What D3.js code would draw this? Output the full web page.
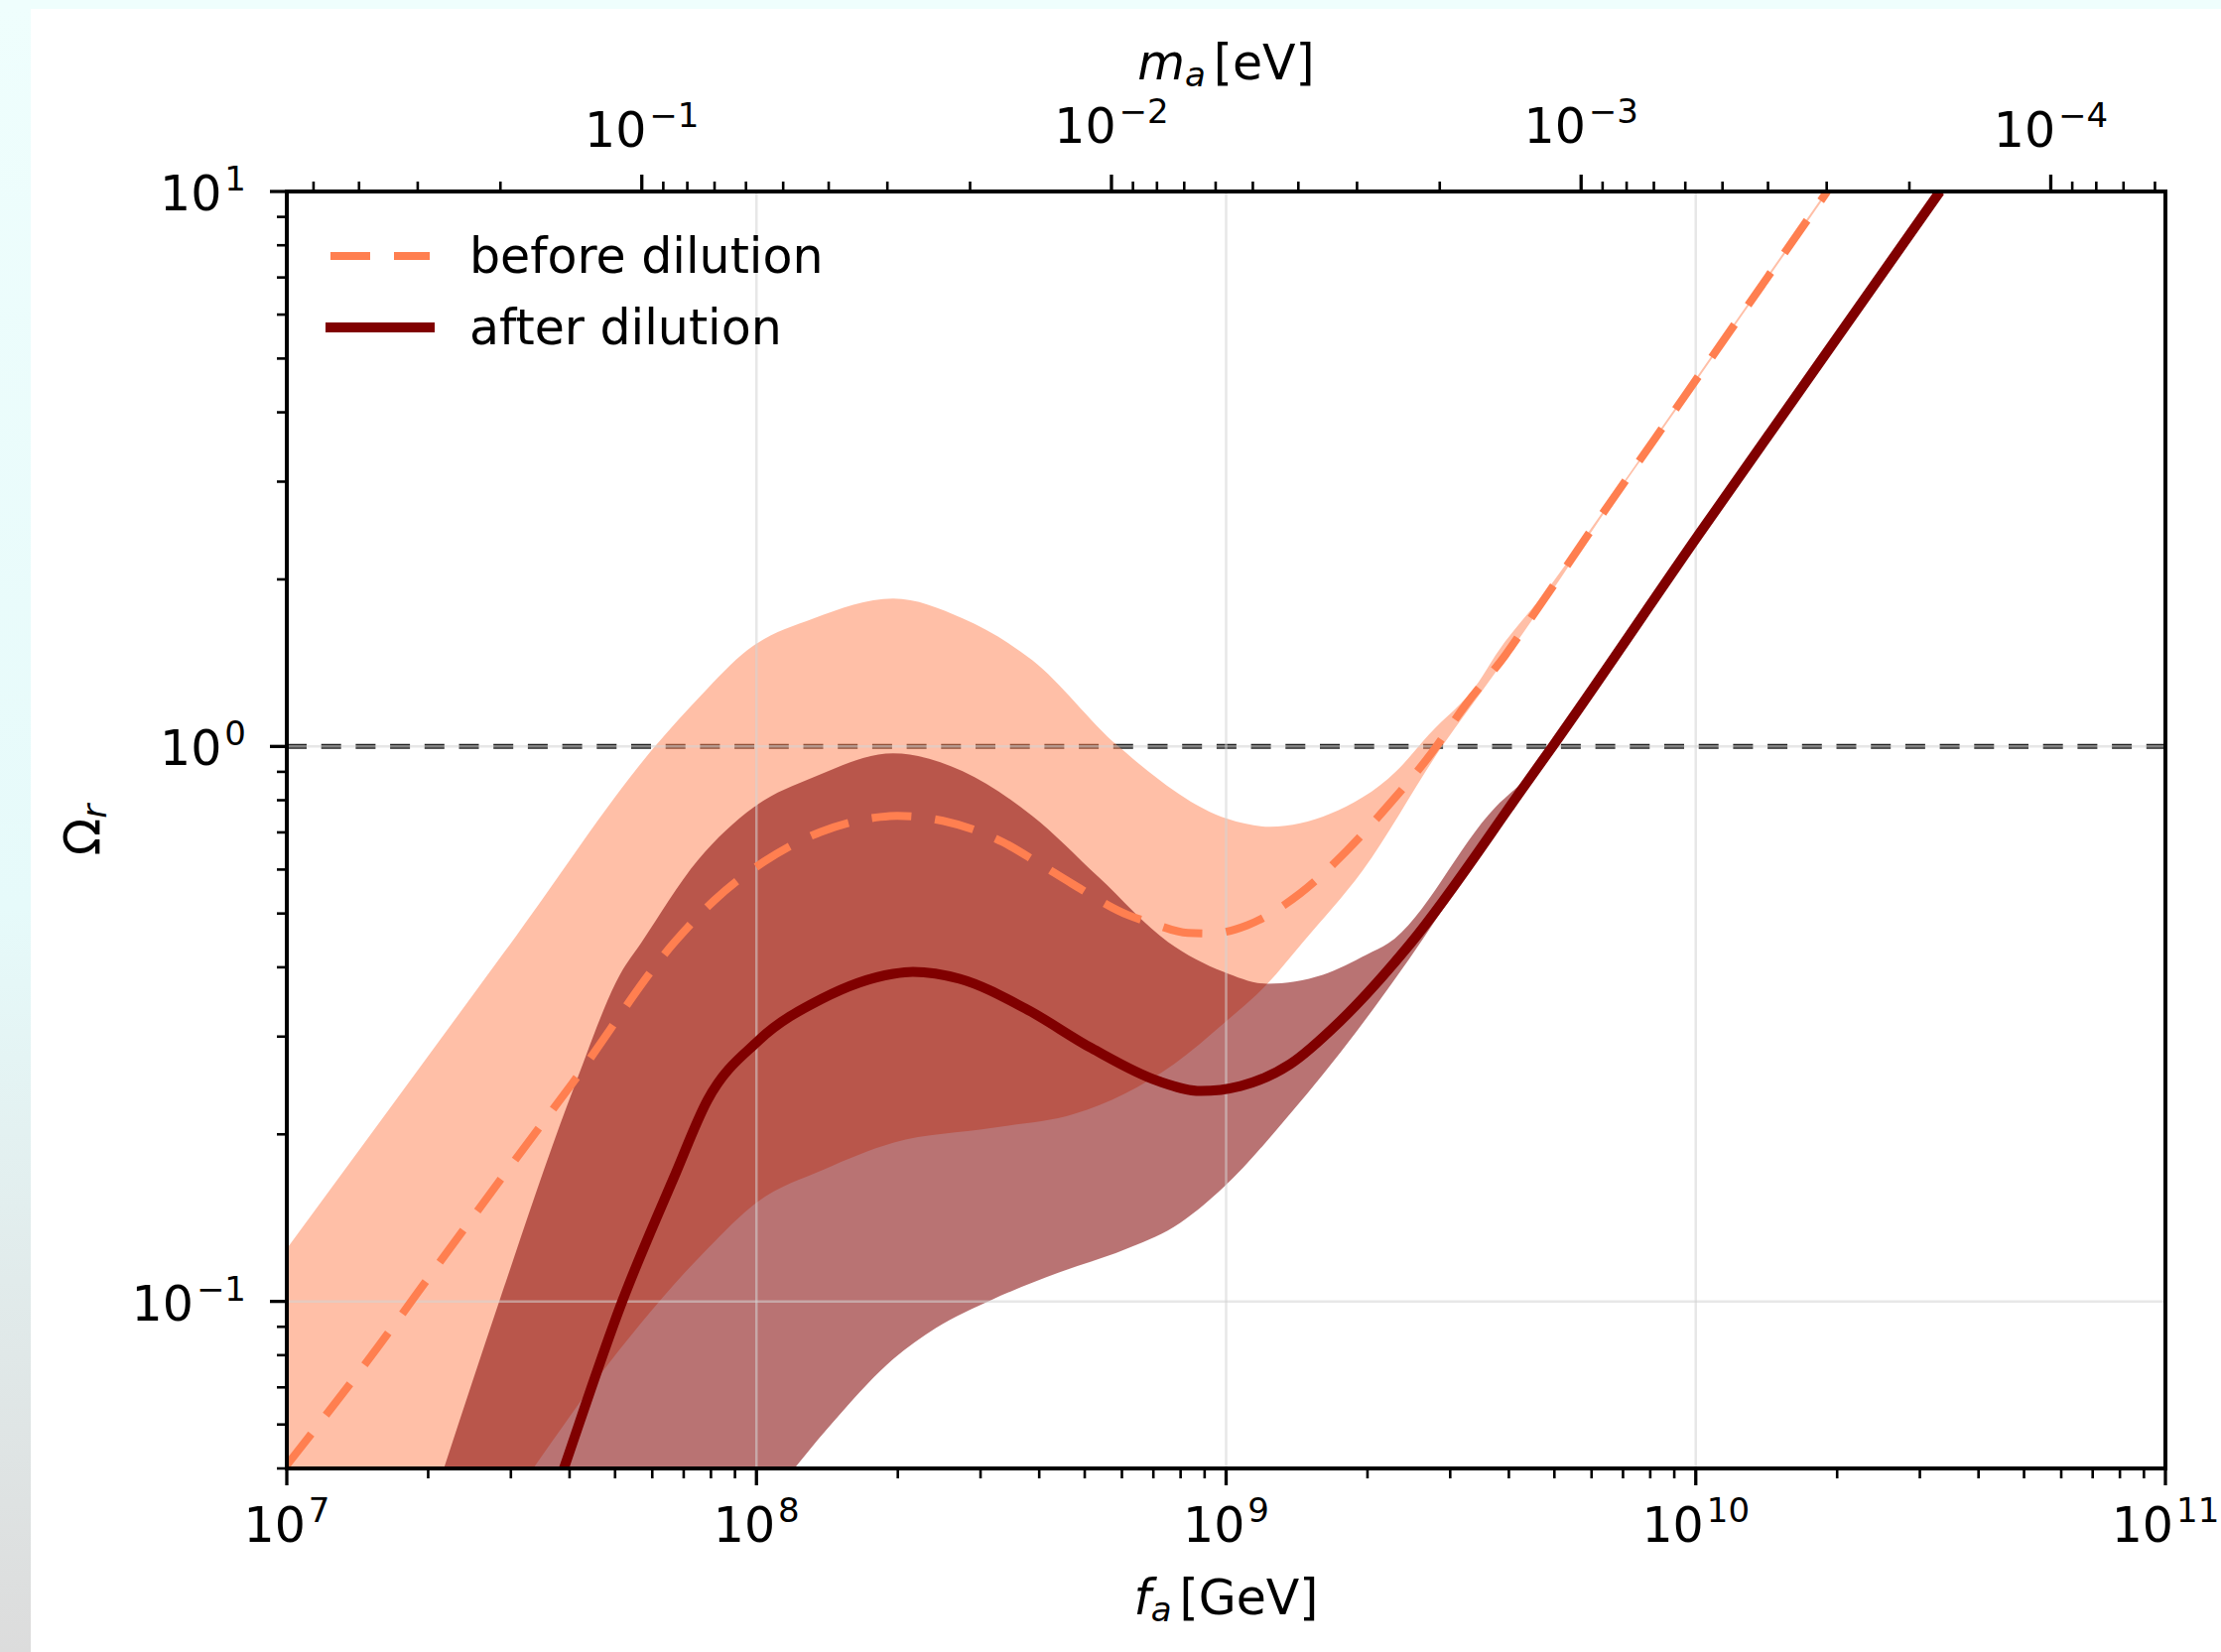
<!DOCTYPE html>
<html><head><meta charset="utf-8">
<script src="https://cdn.jsdelivr.net/npm/d3@7"></script>
<style>
html,body{margin:0;padding:0;background:#fff;}
svg{display:block;}
text{font-family:"DejaVu Sans",sans-serif;fill:#000;}
</style></head><body>
<svg id="chart" width="2238" height="1665"></svg>
<script>
// ---------------- data ----------------
// central curve before dilution (dashed)
const fBefore = [1e7, 1.557e7, 2.105e7, 3.032e7, 4.062e7, 6.703e7, 8.141e7, 1.038e8, 1.370e8, 1.835e8, 1.995e8, 2.493e8, 3.339e8, 3.998e8, 4.692e8, 6.193e8, 6.927e8, 8.291e8, 9.333e8, 1.110e9, 1.437e9, 1.806e9, 2.226e9, 2.692e9, 3.238e9, 3.934e9, 4.400e9, 6.278e9, 9.445e9, 1.905e10];
const omegaBefore = [0.0507, 0.0824, 0.1169, 0.1778, 0.2477, 0.4446, 0.5284, 0.6200, 0.7015, 0.7464, 0.7499, 0.7345, 0.6730, 0.6152, 0.5662, 0.4966, 0.4808, 0.4613, 0.4603, 0.4764, 0.5433, 0.6486, 0.7870, 0.9550, 1.189, 1.462, 1.675, 2.600, 4.266, 10];
// uncertainty band before dilution
const fBeforeUp = [1e7, 1.557e7, 3.077e7, 6.080e7, 7.642e7, 9.561e7, 1.324e8, 1.955e8, 2.748e8, 3.864e8, 5.898e8, 1.007e9, 1.242e9, 1.663e9, 2.303e9, 2.704e9, 3.450e9, 3.748e9, 4.850e9, 6.278e9, 9.445e9, 1.905e10];
const omegaBeforeUp = [0.1245, 0.2073, 0.4553, 1.0, 1.239, 1.491, 1.701, 1.847, 1.701, 1.431, 1.0, 0.7404, 0.7164, 0.7557, 0.9023, 1.051, 1.307, 1.461, 1.925, 2.618, 4.295, 10.07];
const fBeforeLo = [1e7, 3.342e7, 4.837e7, 7.870e7, 1.004e8, 1.391e8, 1.955e8, 3.180e8, 4.761e8, 6.073e8, 7.746e8, 9.879e8, 1.224e9, 1.458e9, 1.952e9, 2.882e9, 3.748e9, 4.850e9, 6.278e9, 9.445e9, 1.905e10];
const omegaBeforeLo = [0.0112, 0.0499, 0.0771, 0.1244, 0.1510, 0.1729, 0.1932, 0.2055, 0.2178, 0.2366, 0.2677, 0.3168, 0.3736, 0.4443, 0.5975, 1.0, 1.361, 1.862, 2.582, 4.236, 9.93];
// central curve after dilution (solid)
const fAfter = [3.548e7, 3.887e7, 5.178e7, 6.703e7, 7.870e7, 1.007e8, 1.377e8, 1.955e8, 2.154e8, 2.707e8, 3.734e8, 5.172e8, 7.167e8, 8.833e8, 1.073e9, 1.369e9, 1.746e9, 2.454e9, 4.358e9, 4.955e9, 1.021e10, 1.637e10, 3.311e10];
const omegaAfter = [0.0398, 0.0499, 0.1, 0.1688, 0.2307, 0.2944, 0.3508, 0.3893, 0.3926, 0.3814, 0.3372, 0.2859, 0.2495, 0.2394, 0.2444, 0.2677, 0.3194, 0.4386, 0.8587, 1.0, 2.427, 4.285, 10];
// uncertainty band after dilution
const fAfterUp = [1.995e7, 2.158e7, 2.833e7, 4.121e7, 5.129e7, 5.697e7, 7.494e7, 9.890e7, 1.324e8, 1.955e8, 2.748e8, 3.864e8, 5.346e8, 7.523e8, 9.879e8, 1.224e9, 1.607e9, 1.995e9, 2.213e9, 3.741e9, 4.358e9, 5.012e9, 1.021e10, 1.637e10, 3.311e10];
const omegaAfterUp = [0.0407, 0.0499, 0.1, 0.2475, 0.389, 0.4443, 0.6228, 0.7779, 0.8800, 0.9716, 0.9023, 0.7496, 0.582, 0.4443, 0.3926, 0.3736, 0.3877, 0.4217, 0.4416, 0.7767, 0.879, 1.028, 2.443, 4.315, 10.07];
const fAfterLo = [1.995e7, 8.913e7, 1.202e8, 1.510e8, 1.955e8, 2.409e8, 3.180e8, 4.406e8, 6.073e8, 7.746e8, 9.879e8, 1.369e9, 1.896e9, 2.454e9, 3.162e9, 4.169e9, 5.012e9, 1.021e10, 1.637e10, 3.311e10];
const omegaAfterLo = [0.0158, 0.0355, 0.0499, 0.0628, 0.0787, 0.0895, 0.1008, 0.1127, 0.1239, 0.1362, 0.1606, 0.2178, 0.3066, 0.4142, 0.5689, 0.8035, 1.0, 2.410, 4.256, 9.93];
// reference level
const omegaRef = [1];
// axes
const xDomain = [1e7, 1e11];
const yDomain = [0.05, 10];
const xMajorTicks = [1e7, 1e8, 1e9, 1e10, 1e11];
const xTickExp = ["7", "8", "9", "10", "11"];
const yMajorTicks = [0.1, 1, 10];
const yTickExp = ["\u22121", "0", "1"];
const topMajorTicks = [1e-1, 1e-2, 1e-3, 1e-4];
const topTickExp = ["\u22121", "\u22122", "\u22123", "\u22124"];
const maTimesFa = 5.7e6; // m_a [eV] * f_a [GeV]
const legendLabels = ["before dilution", "after dilution"];

// ---------------- layout ----------------
const W = 2238, H = 1665;
const L = 289, R = 2182, T = 193, B = 1480;
const svg = d3.select("#chart");
const defs = svg.append("defs");

svg.append("rect").attr("width", W).attr("height", H).attr("fill", "#ffffff");
const grad = defs.append("linearGradient").attr("id", "lg").attr("x1", 0).attr("y1", 0).attr("x2", 0).attr("y2", 1);
grad.append("stop").attr("offset", "0%").attr("stop-color", "#effefd");
grad.append("stop").attr("offset", "55%").attr("stop-color", "#e6fafa");
grad.append("stop").attr("offset", "100%").attr("stop-color", "#dcdcdc");
svg.append("rect").attr("x", 0).attr("y", 0).attr("width", 31).attr("height", H).attr("fill", "url(#lg)");
svg.append("rect").attr("x", 0).attr("y", 0).attr("width", W).attr("height", 9).attr("fill", "#effefd");

const x = d3.scaleLog().domain(xDomain).range([L, R]);
const y = d3.scaleLog().domain(yDomain).range([B, T]);
const m = d3.scaleLog().domain([maTimesFa / xDomain[0], maTimesFa / xDomain[1]]).range([L, R]);

defs.append("clipPath").attr("id", "plotclip").append("rect")
  .attr("x", L).attr("y", T).attr("width", R - L).attr("height", B - T);
const plot = svg.append("g").attr("clip-path", "url(#plotclip)");

const zip = (fs, os) => fs.map((f, i) => [f, os[i]]);
const line = d3.line().x(d => x(d[0])).y(d => y(d[1])).curve(d3.curveMonotoneX);
function bandPath(up, lo) {
  const a = line(up);
  const b = line(lo.slice().reverse());
  return a + "L" + b.slice(1) + "Z";
}

// reference line at Omega = 1 (below the fills)
plot.selectAll(".ref").data(omegaRef).enter().append("line")
  .attr("x1", L).attr("x2", R).attr("y1", d => y(d)).attr("y2", d => y(d))
  .attr("stroke", "#222").attr("stroke-width", 5).attr("stroke-dasharray", "20,14.7");

// bands
plot.append("path").attr("d", bandPath(zip(fBeforeUp, omegaBeforeUp), zip(fBeforeLo, omegaBeforeLo)))
  .attr("fill", "#ff7f50").attr("fill-opacity", 0.5);
plot.append("path").attr("d", bandPath(zip(fAfterUp, omegaAfterUp), zip(fAfterLo, omegaAfterLo)))
  .attr("fill", "#800000").attr("fill-opacity", 0.55);

// grid
const gridG = plot.append("g").attr("stroke", "#d3d3d3").attr("stroke-opacity", 0.55).attr("stroke-width", 2.5);
gridG.selectAll(".gx").data(xMajorTicks).enter().append("line")
  .attr("x1", d => x(d)).attr("x2", d => x(d)).attr("y1", T).attr("y2", B);
gridG.selectAll(".gy").data(yMajorTicks).enter().append("line")
  .attr("x1", L).attr("x2", R).attr("y1", d => y(d)).attr("y2", d => y(d));

// curves
plot.append("path").attr("d", line(zip(fBefore, omegaBefore)))
  .attr("fill", "none").attr("stroke", "#ff7f50").attr("stroke-width", 8).attr("stroke-dasharray", "40,24");
plot.append("path").attr("d", line(zip(fAfter, omegaAfter)))
  .attr("fill", "none").attr("stroke", "#800000").attr("stroke-width", 10);

// spines
svg.append("rect").attr("x", L).attr("y", T).attr("width", R - L).attr("height", B - T)
  .attr("fill", "none").attr("stroke", "#000").attr("stroke-width", 4);

// ticks
const isPow10 = v => Math.abs(Math.log10(v) - Math.round(Math.log10(v))) < 1e-6;
const ticksG = svg.append("g").attr("stroke", "#000");
ticksG.selectAll(".xM").data(xMajorTicks).enter().append("line")
  .attr("x1", d => x(d)).attr("x2", d => x(d)).attr("y1", B).attr("y2", B + 17).attr("stroke-width", 3.3);
ticksG.selectAll(".xm").data(x.ticks().filter(v => !isPow10(v))).enter().append("line")
  .attr("x1", d => x(d)).attr("x2", d => x(d)).attr("y1", B).attr("y2", B + 10).attr("stroke-width", 2.6);
ticksG.selectAll(".yM").data(yMajorTicks).enter().append("line")
  .attr("x1", L - 17).attr("x2", L).attr("y1", d => y(d)).attr("y2", d => y(d)).attr("stroke-width", 3.3);
ticksG.selectAll(".ym").data(y.ticks().filter(v => !isPow10(v))).enter().append("line")
  .attr("x1", L - 10).attr("x2", L).attr("y1", d => y(d)).attr("y2", d => y(d)).attr("stroke-width", 2.6);
ticksG.selectAll(".tM").data(topMajorTicks).enter().append("line")
  .attr("x1", d => m(d)).attr("x2", d => m(d)).attr("y1", T - 17).attr("y2", T).attr("stroke-width", 3.3);
ticksG.selectAll(".tm").data(m.ticks().filter(v => !isPow10(v))).enter().append("line")
  .attr("x1", d => m(d)).attr("x2", d => m(d)).attr("y1", T - 10).attr("y2", T).attr("stroke-width", 2.6);

// tick labels
function powLabel(px, py, exp, anchor) {
  const t = svg.append("text").attr("x", px).attr("y", py).attr("text-anchor", anchor).attr("font-size", 49);
  t.append("tspan").text("10");
  t.append("tspan").attr("dx", 3).attr("dy", -20).attr("font-size", 34).text(exp);
}
xMajorTicks.forEach((v, i) => powLabel(x(v), 1554, xTickExp[i], "middle"));
yMajorTicks.forEach((v, i) => powLabel(248, y(v) + 19, yTickExp[i], "end"));
const topBase = [148, 144, 144, 148];
topMajorTicks.forEach((v, i) => powLabel(m(v), topBase[i], topTickExp[i], "middle"));

// axis labels
const xl = svg.append("text").attr("x", (L + R) / 2).attr("y", 1627).attr("text-anchor", "middle").attr("font-size", 49);
xl.append("tspan").attr("font-style", "italic").text("f");
xl.append("tspan").attr("font-style", "italic").attr("font-size", 34).attr("dy", 7).text("a");
xl.append("tspan").attr("dy", -7).attr("dx", 8).text("[GeV]");

const tl = svg.append("text").attr("x", (L + R) / 2).attr("y", 80).attr("text-anchor", "middle").attr("font-size", 49);
tl.append("tspan").attr("font-style", "italic").text("m");
tl.append("tspan").attr("font-style", "italic").attr("font-size", 34).attr("dy", 7).text("a");
tl.append("tspan").attr("dy", -7).attr("dx", 8).text("[eV]");

const yl = svg.append("text").attr("transform", `translate(100,${(T + B) / 2}) rotate(-90)`)
  .attr("text-anchor", "middle").attr("font-size", 49);
yl.append("tspan").text("\u03A9");
yl.append("tspan").attr("font-style", "italic").attr("font-size", 34).attr("dy", 7).text("r");

// legend
const lg = svg.append("g");
lg.append("line").attr("x1", 333).attr("x2", 433).attr("y1", 258).attr("y2", 258)
  .attr("stroke", "#ff7f50").attr("stroke-width", 8).attr("stroke-dasharray", "40,24");
lg.append("line").attr("x1", 333).attr("x2", 433).attr("y1", 330).attr("y2", 330)
  .attr("stroke", "#800000").attr("stroke-width", 10).attr("stroke-linecap", "square");
lg.selectAll(".lt").data(legendLabels).enter().append("text")
  .attr("x", 473).attr("y", (d, i) => 275 + i * 72).attr("font-size", 49).text(d => d);
</script>
</body></html>
